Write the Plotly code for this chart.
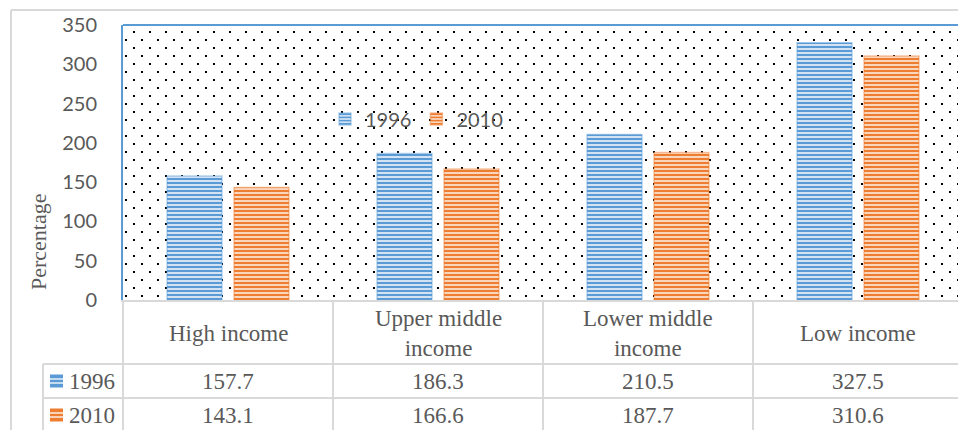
import base64
import textwrap
import plotly.graph_objects as go

# ---- data -------------------------------------------------------------
categories = ["High income", "Upper middle income", "Lower middle income", "Low income"]
years = ["1996", "2010"]
values_1996 = [157.7, 186.3, 210.5, 327.5]
values_2010 = [143.1, 166.6, 187.7, 310.6]
y_ticks = [0, 50, 100, 150, 200, 250, 300, 350]

# ---- styling ------------------------------------------------------------
W, H = 958, 430
PL, PR, PT, PB = 123, 958, 25, 300          # plot area edges in px
BLUE, BLUE_BG = "#5B9BD5", "#D3E3F4"
ORANGE, ORANGE_BG = "#ED7D31", "#FAD6BD"
GRID = "#D9D9D9"
TXT = "#595959"
SANS = "Lato, 'Open Sans', sans-serif"
SERIF = "'Liberation Serif', 'Times New Roman', serif"

series = [
    (years[0], values_1996, BLUE, BLUE_BG, "rgba(91,155,213,0.45)"),
    (years[1], values_2010, ORANGE, ORANGE_BG, "rgba(237,125,49,0.45)"),
]


def fx(x):
    """pixel x -> paper x"""
    return (x - PL) / (PR - PL)


def fy(y):
    """pixel y -> paper y"""
    return (PB - y) / (PB - PT)


fig = go.Figure()
for name, vals, fg, bg, edge in series:
    fig.add_trace(go.Bar(
        x=categories, y=vals, name=name,
        marker=dict(
            color=fg,
            line=dict(color=edge, width=1.5),
            pattern=dict(shape="-", fgcolor=fg, bgcolor=bg, size=4, solidity=0.5, fillmode="replace"),
        ),
    ))

# dotted plot-area background as an inline svg
pw, ph = PR - PL, PB - PT
svg = (
    f'<svg xmlns="http://www.w3.org/2000/svg" width="{pw}" height="{ph}" viewBox="0 0 {pw} {ph}">'
    '<defs><pattern id="d" x="0" y="0" width="16" height="16" patternUnits="userSpaceOnUse">'
    '<rect x="10" y="6" width="2" height="2" fill="#000"/>'
    '<rect x="2" y="14" width="2" height="2" fill="#000"/>'
    '</pattern></defs>'
    f'<rect width="{pw}" height="{ph}" fill="#fff"/>'
    f'<rect width="{pw}" height="{ph}" fill="url(#d)"/></svg>'
)
src = "data:image/svg+xml;base64," + base64.b64encode(svg.encode()).decode()

shapes = []


def line(x0, y0, x1, y1, color=GRID, width=2):
    shapes.append(dict(type="line", xref="paper", yref="paper",
                       x0=fx(x0), y0=fy(y0), x1=fx(x1), y1=fy(y1),
                       line=dict(color=color, width=width)))


# outer chart frame
line(11, 10, 958, 10)
line(11, 10, 11, 430)
# plot area border (top / left in blue)
line(PL, PT, PR, PT, BLUE, 2)
# data table grid
row_tops = [301, 364, 398, 432]
col_edges = [PL + 210 * i for i in range(len(categories) + 1)]
line(43, row_tops[1], 43, 430)
for xe in col_edges[:-1]:
    line(xe, 301, xe, 430)
for yr in row_tops[1:3]:
    line(43, yr, 958, yr)

annotations = []
# header row: category names
for cat in categories:
    annotations.append(dict(
        x=cat, xref="x", y=fy((row_tops[0] + row_tops[1]) / 2 + 1), yref="paper",
        text="<br>".join(textwrap.wrap(cat, 12)), showarrow=False,
        font=dict(family=SERIF, size=23, color=TXT), xanchor="center", yanchor="middle",
    ))

# value rows with small legend keys
for r, (name, vals, fg, bg, edge) in enumerate(series):
    yc = (row_tops[r + 1] + row_tops[r + 2]) / 2
    annotations.append(dict(
        x=fx(67), xref="paper", y=fy(yc), yref="paper", text=name, showarrow=False,
        font=dict(family=SERIF, size=23, color=TXT), xanchor="left", yanchor="middle",
    ))
    shapes.append(dict(type="rect", xref="paper", yref="paper",
                       x0=fx(50), x1=fx(63), y0=fy(yc - 6.5), y1=fy(yc + 6.5),
                       fillcolor=fg, line=dict(width=0)))
    for k in (-2, 2):
        line(50, yc + k, 63, yc + k, "#FFFFFF", 1.3)
    for cat, v in zip(categories, vals):
        annotations.append(dict(
            x=cat, xref="x", y=fy(yc), yref="paper", text=f"{v:.1f}", showarrow=False,
            font=dict(family=SERIF, size=23, color=TXT), xanchor="center", yanchor="middle",
        ))

# y-axis title
annotations.append(dict(
    x=fx(38), xref="paper", y=fy(242), yref="paper", text="Percentage", textangle=-90,
    showarrow=False, font=dict(family=SERIF, size=22, color=TXT),
    xanchor="center", yanchor="middle",
))

fig.update_layout(
    width=W, height=H,
    margin=dict(l=PL, r=W - PR, t=PT, b=H - PB),
    paper_bgcolor="#FFFFFF", plot_bgcolor="rgba(0,0,0,0)",
    barmode="group", bargap=0.362, bargroupgap=0.179,
    showlegend=True,
    legend=dict(orientation="h", x=fx(325), y=fy(119), xanchor="left", yanchor="middle",
                bgcolor="rgba(0,0,0,0)", font=dict(family=SANS, size=20, color=TXT),
                itemclick=False, tracegroupgap=0),
    xaxis=dict(range=[-0.5, 3.5 - (col_edges[-1] - PR) / 210], showticklabels=False,
               showgrid=False, zeroline=False, showline=True, linecolor=GRID, linewidth=2,
               ticks=""),
    yaxis=dict(range=[0, 350], tickvals=y_ticks, showgrid=False, zeroline=False,
               showline=True, linecolor=BLUE, linewidth=2, ticks="",
               ticklabelstandoff=20,
               tickfont=dict(family=SANS, size=20, color=TXT)),
    images=[dict(source=src, xref="paper", yref="paper", x=0, y=1, sizex=1, sizey=1,
                 xanchor="left", yanchor="top", sizing="stretch", layer="below")],
    shapes=shapes,
    annotations=annotations,
)

fig.write_html("out.html")
